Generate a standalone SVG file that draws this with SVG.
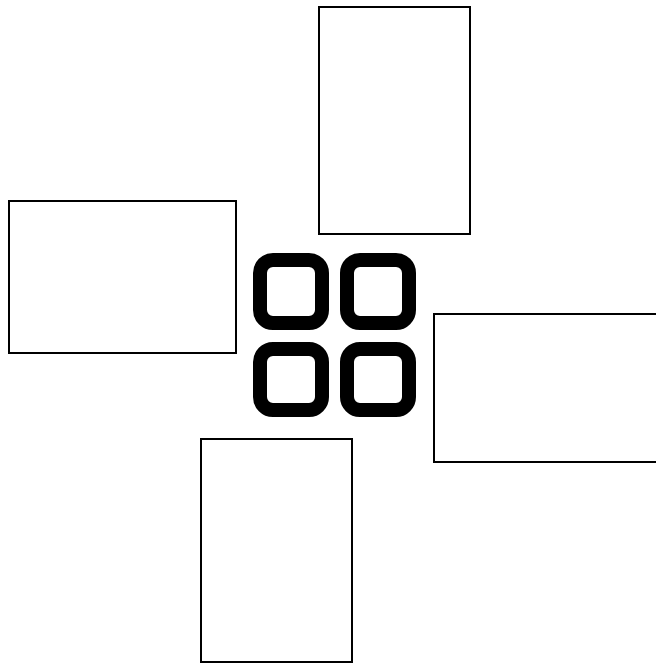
<svg xmlns="http://www.w3.org/2000/svg" width="656" height="664" viewBox="0 0 656 664">
<style>
.box{fill:#fff;stroke:#000;stroke-width:2}
.sq{fill:none;stroke:#000;stroke-width:14}
</style>
<rect width="656" height="664" fill="#fff"/>
<g id="top"><rect class="box" x="319" y="7" width="151" height="227"/></g>
<g id="left"><rect class="box" x="9" y="201" width="227" height="152"/></g>
<g id="right"><rect class="box" x="434" y="314" width="224" height="148"/></g>
<g id="bottom"><rect class="box" x="201" y="439" width="151" height="223"/></g>
<g id="center">
<rect class="sq" x="260" y="260" width="62" height="63" rx="13"/>
<rect class="sq" x="347" y="260" width="62" height="63" rx="13"/>
<rect class="sq" x="260" y="349" width="62" height="61" rx="13"/>
<rect class="sq" x="347" y="349" width="62" height="61" rx="13"/>
</g>
<g id="connectors"></g>
</svg>
